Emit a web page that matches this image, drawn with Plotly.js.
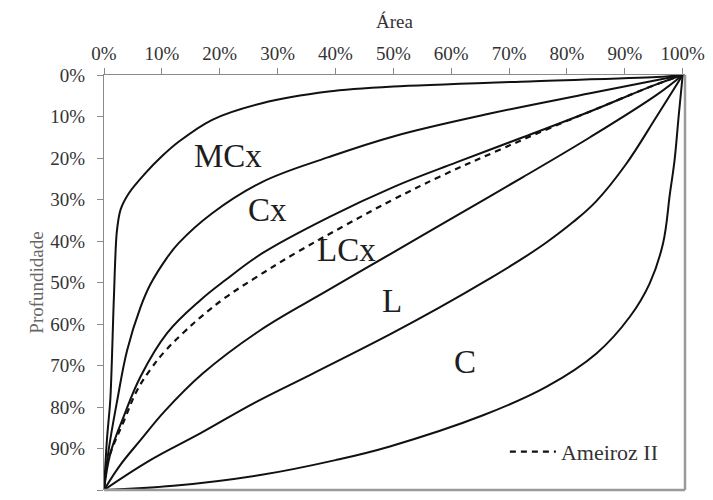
<!DOCTYPE html>
<html>
<head>
<meta charset="utf-8">
<script src="https://cdn.plot.ly/plotly-3.0.1.min.js"></script>
<style>html,body{margin:0;padding:0;background:#fff;}#chart{width:713px;height:500px;}</style>
</head>
<body>
<div id="chart"></div>
<script>
// Area (%) and depth (%) for each profile curve
const mcxArea  = [0, 0.5, 1.1, 1.7, 2.2, 2.85, 4.3, 7.2, 10, 12.9, 18.7, 27.3, 38.8, 50, 72, 95.5, 100];
const mcxDepth = [100, 88, 78, 54, 38, 32.5, 28.5, 23.6, 19.6, 16.1, 10.8, 6.8, 4.0, 2.8, 1.6, 0.5, 0];

const cxArea  = [0, 0.8, 2.3, 4.0, 6.3, 8.0, 10.9, 12.9, 18.7, 27.3, 38.8, 50, 66.7, 84, 100];
const cxDepth = [100, 90.4, 78.3, 66.3, 56, 50.5, 44, 40.5, 33.3, 25.8, 19.8, 14.8, 9.3, 4.4, 0];

const lcxArea  = [0, 1.1, 3.4, 6.3, 10.9, 16.7, 21, 27.3, 38.8, 50, 61, 72.4, 84, 95, 100];
const lcxDepth = [100, 91.2, 82.3, 72.7, 62.2, 54.2, 49.4, 43, 34.3, 27, 21, 15, 8.8, 2.5, 0];

const ameirozArea  = [0.4, 1.4, 3.4, 5.7, 8, 10.5, 13.8, 16.5, 21, 26, 33, 41.7, 50, 58, 68.4, 77, 84, 95, 100];
const ameirozDepth = [94, 90, 83.5, 76, 71, 66.6, 62, 58.6, 53.6, 49, 43, 36.2, 30, 24.5, 18, 12.8, 8.8, 2.5, 0];

const lArea  = [0, 2.8, 6.3, 10.5, 17, 27, 38.8, 49.4, 61, 72.4, 84, 95.5, 100];
const lDepth = [100, 94, 88, 81, 72, 61.5, 51.8, 43.2, 33.8, 24.6, 15, 4.8, 0];

const lcArea  = [0, 8, 16.7, 26, 36, 49.4, 58, 66.7, 72, 76.5, 81, 85, 90.2, 95.5, 100];
const lcDepth = [100, 92.8, 86.3, 79, 72, 62.5, 56, 49, 44.5, 40.3, 35.5, 30.5, 21.5, 10, 0];

const cArea  = [0, 12, 27, 40, 49.4, 65.5, 76.5, 85.1, 90.9, 94.3, 96.6, 97.8, 98.6, 99.3, 100];
const cDepth = [100, 99, 96.4, 92.8, 89.5, 82, 75.1, 67.1, 58.2, 50.2, 40.6, 28.5, 20.5, 10, 0];

// Region labels
const labelText  = ['MCx', 'Cx', 'LCx', 'L', 'C'];
const labelArea  = [21.5, 28.3, 41.9, 49.8, 62.4];
const labelDepth = [19.5, 32.5, 42.2, 54.5, 69.2];

const tickVals = [0, 10, 20, 30, 40, 50, 60, 70, 80, 90, 100];
const tickText = ['0%', '10%', '20%', '30%', '40%', '50%', '60%', '70%', '80%', '90%', '100%'];

const FONT = 'Liberation Serif, Times New Roman, serif';
const solid = {color: '#111', width: 2, shape: 'spline', smoothing: 1.1};

function curve(x, y, name, line, show) {
  return {x: x, y: y, type: 'scatter', mode: 'lines', name: name,
          line: line, showlegend: !!show, hoverinfo: 'skip'};
}

const data = [
  curve(mcxArea, mcxDepth, 'MCx', {color: '#111', width: 2, shape: 'spline', smoothing: 0.8}),
  curve(cxArea, cxDepth, 'Cx', solid),
  curve(lcxArea, lcxDepth, 'LCx', solid),
  curve(lArea, lDepth, 'L', solid),
  curve(lcArea, lcDepth, 'LC', solid),
  curve(cArea, cDepth, 'C', solid),
  curve(ameirozArea, ameirozDepth, 'Ameiroz II',
        {color: '#111', width: 2.2, dash: '6px,5px', shape: 'spline', smoothing: 1.1}, true)
];

const annotations = labelText.map((t, i) => ({
  x: labelArea[i], y: labelDepth[i], xref: 'x', yref: 'y', text: t,
  showarrow: false, font: {family: FONT, size: 33, color: '#1e1e1e'}
}));
// x-axis title (drawn above the top tick labels)
annotations.push({
  x: 0.5, y: 1.128, xref: 'paper', yref: 'paper', xanchor: 'center', yanchor: 'middle',
  text: 'Área', showarrow: false, font: {family: FONT, size: 19, color: '#333'}
});

const axisCommon = {
  showgrid: false, zeroline: false, showline: true, linecolor: '#8a8a8a', linewidth: 1.2,
  ticks: 'outside', ticklen: 6, tickcolor: '#8a8a8a', tickwidth: 1,
  tickvals: tickVals, ticktext: tickText,
  tickfont: {family: FONT, size: 19, color: '#333'}
};

const layout = {
  width: 713, height: 500,
  margin: {l: 104, r: 28, t: 75, b: 10},
  paper_bgcolor: '#fff', plot_bgcolor: '#fff',
  xaxis: Object.assign({}, axisCommon, {
    side: 'top', range: [0, 100.4]
  }),
  yaxis: Object.assign({}, axisCommon, {
    range: [100, 0], ticklabelstandoff: 8,
    title: {text: 'Profundidade', standoff: 1, font: {family: FONT, size: 19, color: '#666'}}
  }),
  showlegend: true,
  legend: {x: 0.69, y: 0.092, xanchor: 'left', yanchor: 'middle', bgcolor: 'rgba(0,0,0,0)',
           borderwidth: 0, itemwidth: 46, font: {family: FONT, size: 22, color: '#333'}},
  annotations: annotations,
  shapes: [
    {type: 'line', xref: 'paper', yref: 'paper', x0: 1, x1: 1, y0: 0, y1: 1,
     line: {color: '#9a9a9a', width: 2.5}},
    {type: 'line', xref: 'paper', yref: 'paper', x0: 0, x1: 1, y0: 0, y1: 0,
     line: {color: '#9a9a9a', width: 2.5}}
  ]
};

Plotly.newPlot('chart', data, layout, {displayModeBar: false, staticPlot: true});
</script>
</body>
</html>
